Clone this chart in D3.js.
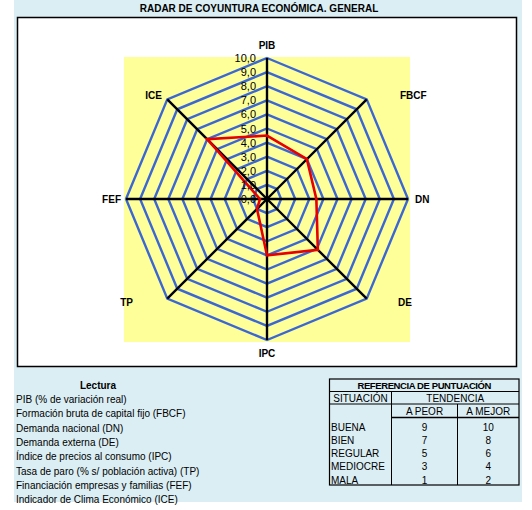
<!DOCTYPE html>
<html>
<head>
<meta charset="utf-8">
<script src="https://cdn.jsdelivr.net/npm/d3@7"></script>
<style>
  html, body { margin: 0; padding: 0; background: #ffffff; }
  svg { display: block; font-family: "Liberation Sans", Arial, sans-serif; }
</style>
</head>
<body>
<svg id="chart" width="532" height="510"></svg>
<script>
// ---------- DATA ----------
const title = "RADAR DE COYUNTURA ECONÓMICA. GENERAL";
const axes = ["PIB", "FBCF", "DN", "DE", "IPC", "TP", "FEF", "ICE"];
const values = [4.5, 4.0, 3.5, 5.1, 4.0, 1.0, 0.5, 6.0];
const tickValues = [0, 1, 2, 3, 4, 5, 6, 7, 8, 9, 10];
const tickLabels = ["0,0", "1,0", "2,0", "3,0", "4,0", "5,0", "6,0", "7,0", "8,0", "9,0", "10,0"];
const lecturaTitle = "Lectura";
const lecturaLines = [
  "PIB (% de variación real)",
  "Formación bruta de capital fijo (FBCF)",
  "Demanda nacional (DN)",
  "Demanda externa (DE)",
  "Índice de precios al consumo (IPC)",
  "Tasa de paro (% s/ población activa) (TP)",
  "Financiación empresas y familias (FEF)",
  "Indicador de Clima Económico (ICE)"
];
const tableTitle = "REFERENCIA DE PUNTUACIÓN";
const situaciones = ["BUENA", "BIEN", "REGULAR", "MEDIOCRE", "MALA"];
const aPeor = [9, 7, 5, 3, 1];
const aMejor = [10, 8, 6, 4, 2];

// ---------- LAYOUT ----------
const svg = d3.select("#chart");
const cx = 267, cy = 199, R = 141;
const rScale = d3.scaleLinear().domain([0, 10]).range([0, R]);
const aScale = d3.scaleLinear().domain([0, axes.length]).range([0, 2 * Math.PI]);

// background panel
svg.append("rect").attr("x", 14).attr("y", 0).attr("width", 508).attr("height", 502).attr("fill", "#dbeef4");

// title
svg.append("text").attr("x", 259).attr("y", 11.5).attr("text-anchor", "middle")
  .attr("font-size", 10).attr("font-weight", "bold").attr("fill", "#000").text(title);

// chart box
svg.append("rect").attr("x", 17.5).attr("y", 17.5).attr("width", 499).attr("height", 349)
  .attr("fill", "#ffffff").attr("stroke", "#000").attr("stroke-width", 1.5);

// plot area (yellow)
svg.append("rect").attr("x", 124).attr("y", 57).attr("width", 286).attr("height", 285).attr("fill", "#ffff99");

const g = svg.append("g").attr("transform", `translate(${cx},${cy})`);

// rings
const ringLine = d3.lineRadial().curve(d3.curveLinearClosed)
  .angle((d, i) => aScale(i)).radius(d => rScale(d));
g.selectAll("path.ring").data(tickValues.filter(t => t > 0)).join("path")
  .attr("class", "ring")
  .attr("d", t => ringLine(axes.map(() => t)))
  .attr("fill", "none").attr("stroke", "#3b67d4").attr("stroke-width", 2.4);

// spokes
g.selectAll("line.spoke").data(axes).join("line")
  .attr("class", "spoke")
  .attr("x1", 0).attr("y1", 0)
  .attr("x2", (d, i) => rScale(10) * Math.sin(aScale(i)))
  .attr("y2", (d, i) => -rScale(10) * Math.cos(aScale(i)))
  .attr("stroke", "#000").attr("stroke-width", 2.4);

// data series
g.append("path").datum(values)
  .attr("d", ringLine)
  .attr("fill", "none").attr("stroke", "#e60000").attr("stroke-width", 2.6)
  .attr("stroke-linejoin", "miter");

// tick labels along PIB axis
g.selectAll("text.tick").data(tickValues).join("text")
  .attr("class", "tick")
  .attr("x", -11).attr("y", d => -rScale(d) + 4)
  .attr("text-anchor", "end").attr("font-size", 11).attr("fill", "#000")
  .text((d, i) => tickLabels[i]);

// axis labels
const labelPos = {
  PIB: [0, -150, "middle"],
  FBCF: [133, -100, "start"],
  DN: [148, 4, "start"],
  DE: [131, 107, "start"],
  IPC: [0, 158, "middle"],
  TP: [-134, 107, "end"],
  FEF: [-146, 4, "end"],
  ICE: [-105, -100, "end"]
};
g.selectAll("text.axlabel").data(axes).join("text")
  .attr("class", "axlabel")
  .attr("x", d => labelPos[d][0]).attr("y", d => labelPos[d][1])
  .attr("text-anchor", d => labelPos[d][2])
  .attr("font-size", 10).attr("font-weight", "bold").attr("fill", "#000")
  .text(d => d);

// Lectura
svg.append("text").attr("x", 98).attr("y", 389).attr("text-anchor", "middle")
  .attr("font-size", 10).attr("font-weight", "bold").text(lecturaTitle);
svg.selectAll("text.lect").data(lecturaLines).join("text")
  .attr("class", "lect")
  .attr("x", 16).attr("y", (d, i) => 403 + i * 14.35)
  .attr("font-size", 10).attr("fill", "#000").text(d => d);

// reference table
const tx0 = 329.5, tx1 = 391.5, tx2 = 457.5, tx3 = 519;
const rowY = [379, 391.5, 404, 417.5, 485];
const tb = svg.append("g");
tb.append("rect").attr("x", tx0).attr("y", rowY[0]).attr("width", tx3 - tx0).attr("height", rowY[4] - rowY[0])
  .attr("fill", "none").attr("stroke", "#000").attr("stroke-width", 1.2);
tb.append("line").attr("x1", tx0).attr("x2", tx3).attr("y1", rowY[1]).attr("y2", rowY[1]).attr("stroke", "#000").attr("stroke-width", 1);
tb.append("line").attr("x1", tx0).attr("x2", tx3).attr("y1", rowY[2]).attr("y2", rowY[2]).attr("stroke", "#000").attr("stroke-width", 1);
tb.append("line").attr("x1", tx1).attr("x2", tx3).attr("y1", rowY[3]).attr("y2", rowY[3]).attr("stroke", "#000").attr("stroke-width", 1.6);
tb.append("line").attr("x1", tx1).attr("x2", tx1).attr("y1", rowY[1]).attr("y2", rowY[4]).attr("stroke", "#000").attr("stroke-width", 1);
tb.append("line").attr("x1", tx2).attr("x2", tx2).attr("y1", rowY[2]).attr("y2", rowY[4]).attr("stroke", "#000").attr("stroke-width", 1);

tb.append("text").attr("x", (tx0 + tx3) / 2).attr("y", 389).attr("text-anchor", "middle")
  .attr("font-size", 9.5).attr("font-weight", "bold").attr("letter-spacing", -0.4).text(tableTitle);
tb.append("text").attr("x", (tx0 + tx1) / 2).attr("y", 401.5).attr("text-anchor", "middle")
  .attr("font-size", 10).text("SITUACIÓN");
tb.append("text").attr("x", (tx1 + tx3) / 2).attr("y", 401.5).attr("text-anchor", "middle")
  .attr("font-size", 10).text("TENDENCIA");
tb.append("text").attr("x", (tx1 + tx2) / 2).attr("y", 415).attr("text-anchor", "middle")
  .attr("font-size", 10).text("A PEOR");
tb.append("text").attr("x", (tx2 + tx3) / 2).attr("y", 415).attr("text-anchor", "middle")
  .attr("font-size", 10).text("A MEJOR");

const rowBase = d3.scaleLinear().domain([0, 4]).range([431, 483.5]);
tb.selectAll("text.sit").data(situaciones).join("text").attr("class", "sit")
  .attr("x", 331).attr("y", (d, i) => rowBase(i)).attr("font-size", 10).text(d => d);
tb.selectAll("text.peor").data(aPeor).join("text").attr("class", "peor")
  .attr("x", (tx1 + tx2) / 2).attr("y", (d, i) => rowBase(i)).attr("text-anchor", "middle").attr("font-size", 10).text(d => d);
tb.selectAll("text.mejor").data(aMejor).join("text").attr("class", "mejor")
  .attr("x", (tx2 + tx3) / 2).attr("y", (d, i) => rowBase(i)).attr("text-anchor", "middle").attr("font-size", 10).text(d => d);
</script>
</body>
</html>
